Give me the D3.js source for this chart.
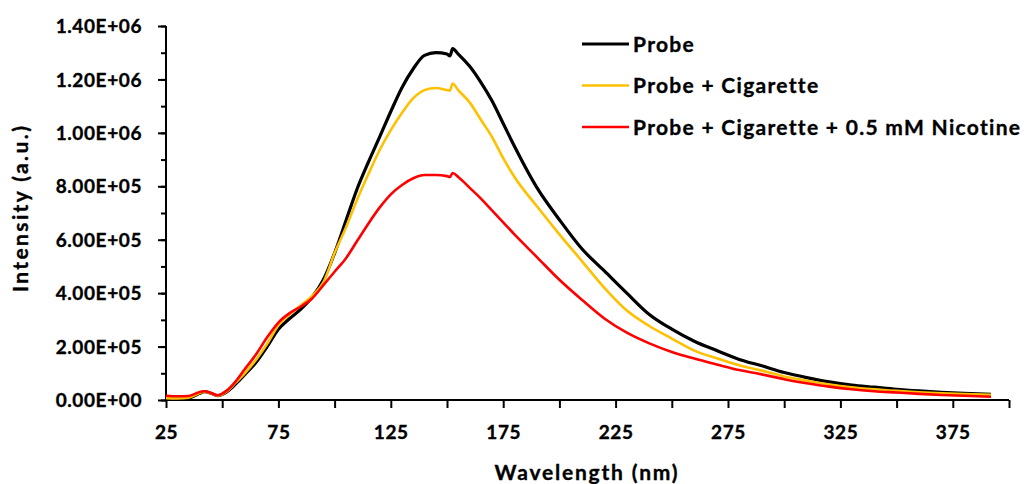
<!DOCTYPE html>
<html>
<head>
<meta charset="utf-8">
<script src="https://cdn.jsdelivr.net/npm/d3@7"></script>
<style>
  body { margin: 0; background: #fff; }
  text { font-family: Lato, "Open Sans", sans-serif; font-weight: bold; fill: #000; stroke: #000; stroke-width: 0.35px; }
</style>
</head>
<body>
<div id="chart"></div>
<script>
// wavelength grid (nm) shared by all three spectra
var wavelength = [25, 30, 35, 40, 42, 45, 48, 52, 56, 60, 65, 70, 75, 80, 85, 90, 95, 100, 105, 110,
  115, 120, 125, 130, 135, 140, 145, 150, 151.3, 152.5, 155, 160, 165, 170, 175, 180, 190, 200, 210,
  220, 230, 240, 250, 260, 270, 280, 290, 300, 310, 320, 330, 340, 350, 360, 370, 380, 392];

var probe = [5e3, 5e3, 8e3, 2.5e4, 3.1e4, 2.5e4, 1.6e4, 3.0e4, 6.0e4, 9.5e4, 1.4e5, 2.0e5, 2.65e5, 3.05e5,
  3.4e5, 3.85e5, 4.5e5, 5.5e5, 6.7e5, 7.9e5, 8.9e5, 9.84e5, 1.08e6, 1.17e6, 1.24e6, 1.29e6, 1.30e6,
  1.295e6, 1.288e6, 1.315e6, 1.295e6, 1.25e6, 1.19e6, 1.12e6, 1.035e6, 9.5e5, 7.95e5, 6.75e5, 5.66e5,
  4.83e5, 4.0e5, 3.2e5, 2.65e5, 2.2e5, 1.85e5, 1.52e5, 1.28e5, 1.03e5, 8.4e4, 6.8e4, 5.6e4, 4.8e4,
  4.0e4, 3.4e4, 2.9e4, 2.5e4, 2.1e4];

var probeCig = [7e3, 6e3, 9e3, 2.6e4, 3.1e4, 2.5e4, 1.6e4, 3.2e4, 6.5e4, 1.0e5, 1.5e5, 2.1e5, 2.8e5, 3.2e5,
  3.55e5, 3.9e5, 4.4e5, 5.5e5, 6.45e5, 7.5e5, 8.45e5, 9.35e5, 1.01e6, 1.075e6, 1.13e6, 1.16e6, 1.168e6,
  1.16e6, 1.158e6, 1.185e6, 1.16e6, 1.115e6, 1.05e6, 9.85e5, 9.05e5, 8.35e5, 7.25e5, 6.2e5, 5.2e5,
  4.2e5, 3.35e5, 2.77e5, 2.3e5, 1.85e5, 1.56e5, 1.3e5, 1.1e5, 8.8e4, 7.2e4, 5.8e4, 4.8e4, 4.0e4,
  3.4e4, 2.9e4, 2.5e4, 2.2e4, 1.9e4];

var probeCigNic = [1.6e4, 1.4e4, 1.5e4, 3.0e4, 3.3e4, 2.6e4, 1.8e4, 3.5e4, 7.0e4, 1.15e5, 1.7e5, 2.35e5,
  2.9e5, 3.25e5, 3.5e5, 3.8e5, 4.3e5, 4.8e5, 5.3e5, 5.95e5, 6.6e5, 7.2e5, 7.7e5, 8.05e5, 8.3e5, 8.42e5,
  8.42e5, 8.38e5, 8.35e5, 8.5e5, 8.35e5, 7.95e5, 7.55e5, 7.1e5, 6.65e5, 6.2e5, 5.35e5, 4.5e5, 3.75e5,
  3.05e5, 2.52e5, 2.12e5, 1.8e5, 1.55e5, 1.33e5, 1.12e5, 9.6e4, 7.8e4, 6.3e4, 5.0e4, 4.0e4, 3.3e4,
  2.8e4, 2.3e4, 1.9e4, 1.6e4, 1.2e4];

var seriesNames = ["Probe", "Probe + Cigarette", "Probe + Cigarette + 0.5 mM Nicotine"];
var seriesColors = ["#000000", "#FFC000", "#FF0000"];
var seriesValues = [probe, probeCig, probeCigNic];

var xTickLabels = [25, 75, 125, 175, 225, 275, 325, 375];
var yTickLabels = [0, 2e5, 4e5, 6e5, 8e5, 1e6, 1.2e6, 1.4e6];

var W = 1027, H = 484;
var margin = {top: 26, right: 18, bottom: 84, left: 166};
var width = W - margin.left - margin.right,
  height = H - margin.top - margin.bottom;

var svg = d3.select("#chart").append("svg")
  .attr("width", W)
  .attr("height", H);
var g = svg.append("g")
  .attr("transform", "translate(" + margin.left + "," + margin.top + ")");

var x = d3.scaleLinear().domain([25, 400]).range([0, width]);
var y = d3.scaleLinear().domain([0, 1.4e6]).range([height, 0]);

/* y axis: labelled majors + short minors */
var yMinor = d3.range(0, 1.4e6 + 1, 1e5);
g.append("g")
  .call(d3.axisLeft(y).tickValues(yMinor).tickSize(5).tickFormat(""))
  .call(function(a) { a.select(".domain").remove(); a.selectAll("line").attr("stroke-width", 2); });
var yAx = g.append("g")
  .call(d3.axisLeft(y).tickValues(yTickLabels).tickSize(8).tickPadding(16)
    .tickFormat(function(d) {
      var s = d.toExponential(2).toUpperCase();
      return s.replace(/E([+-])(\d)$/, "E$10$2");
    }));
yAx.select(".domain").attr("stroke-width", 2).attr("d", "M0," + (height + 1) + "V0");
yAx.selectAll("line").attr("stroke-width", 2);
yAx.selectAll("text").style("font-size", "19px").attr("dy", "0.35em").attr("letter-spacing", "0.6px");

/* x axis */
var xAx = g.append("g")
  .attr("transform", "translate(0," + height + ")")
  .call(d3.axisBottom(x).tickValues(d3.range(25, 401, 25)).tickSize(8).tickPadding(18)
    .tickFormat(function(d) { return xTickLabels.indexOf(d) >= 0 ? d : ""; }));
xAx.select(".domain").attr("stroke-width", 2).attr("d", "M-1,0H" + width);
xAx.selectAll("line").attr("stroke-width", 2);
xAx.selectAll("text").style("font-size", "19px").attr("letter-spacing", "0.6px");

/* lines */
var line = d3.line()
  .curve(d3.curveMonotoneX)
  .x(function(d, i) { return x(wavelength[i]); })
  .y(function(d) { return y(d); });
seriesValues.forEach(function(vals, k) {
  g.append("path")
    .datum(vals)
    .attr("fill", "none")
    .attr("stroke", seriesColors[k])
    .attr("stroke-width", k == 0 ? 3.2 : 2.6)
    .attr("stroke-linejoin", "round")
    .attr("d", line);
});

/* axis titles */
svg.append("text")
  .attr("x", 587)
  .attr("y", 480)
  .attr("text-anchor", "middle")
  .attr("letter-spacing", "1.8px")
  .style("font-size", "21px")
  .text("Wavelength (nm)");
svg.append("text")
  .attr("transform", "translate(28,208) rotate(-90)")
  .attr("text-anchor", "middle")
  .attr("letter-spacing", "2.4px")
  .style("font-size", "21px")
  .text("Intensity (a.u.)");

/* legend */
var legend = svg.append("g").attr("transform", "translate(582,44)");
seriesNames.forEach(function(name, k) {
  var row = legend.append("g").attr("transform", "translate(0," + (k * 41.5) + ")");
  row.append("line")
    .attr("x1", 0).attr("x2", 47)
    .attr("stroke", seriesColors[k])
    .attr("stroke-width", k == 0 ? 3.2 : 2.6);
  row.append("text")
    .attr("x", 51)
    .attr("dy", "0.36em")
    .attr("letter-spacing", "1.3px")
    .style("font-size", "21px")
    .text(name);
});
</script>
</body>
</html>
